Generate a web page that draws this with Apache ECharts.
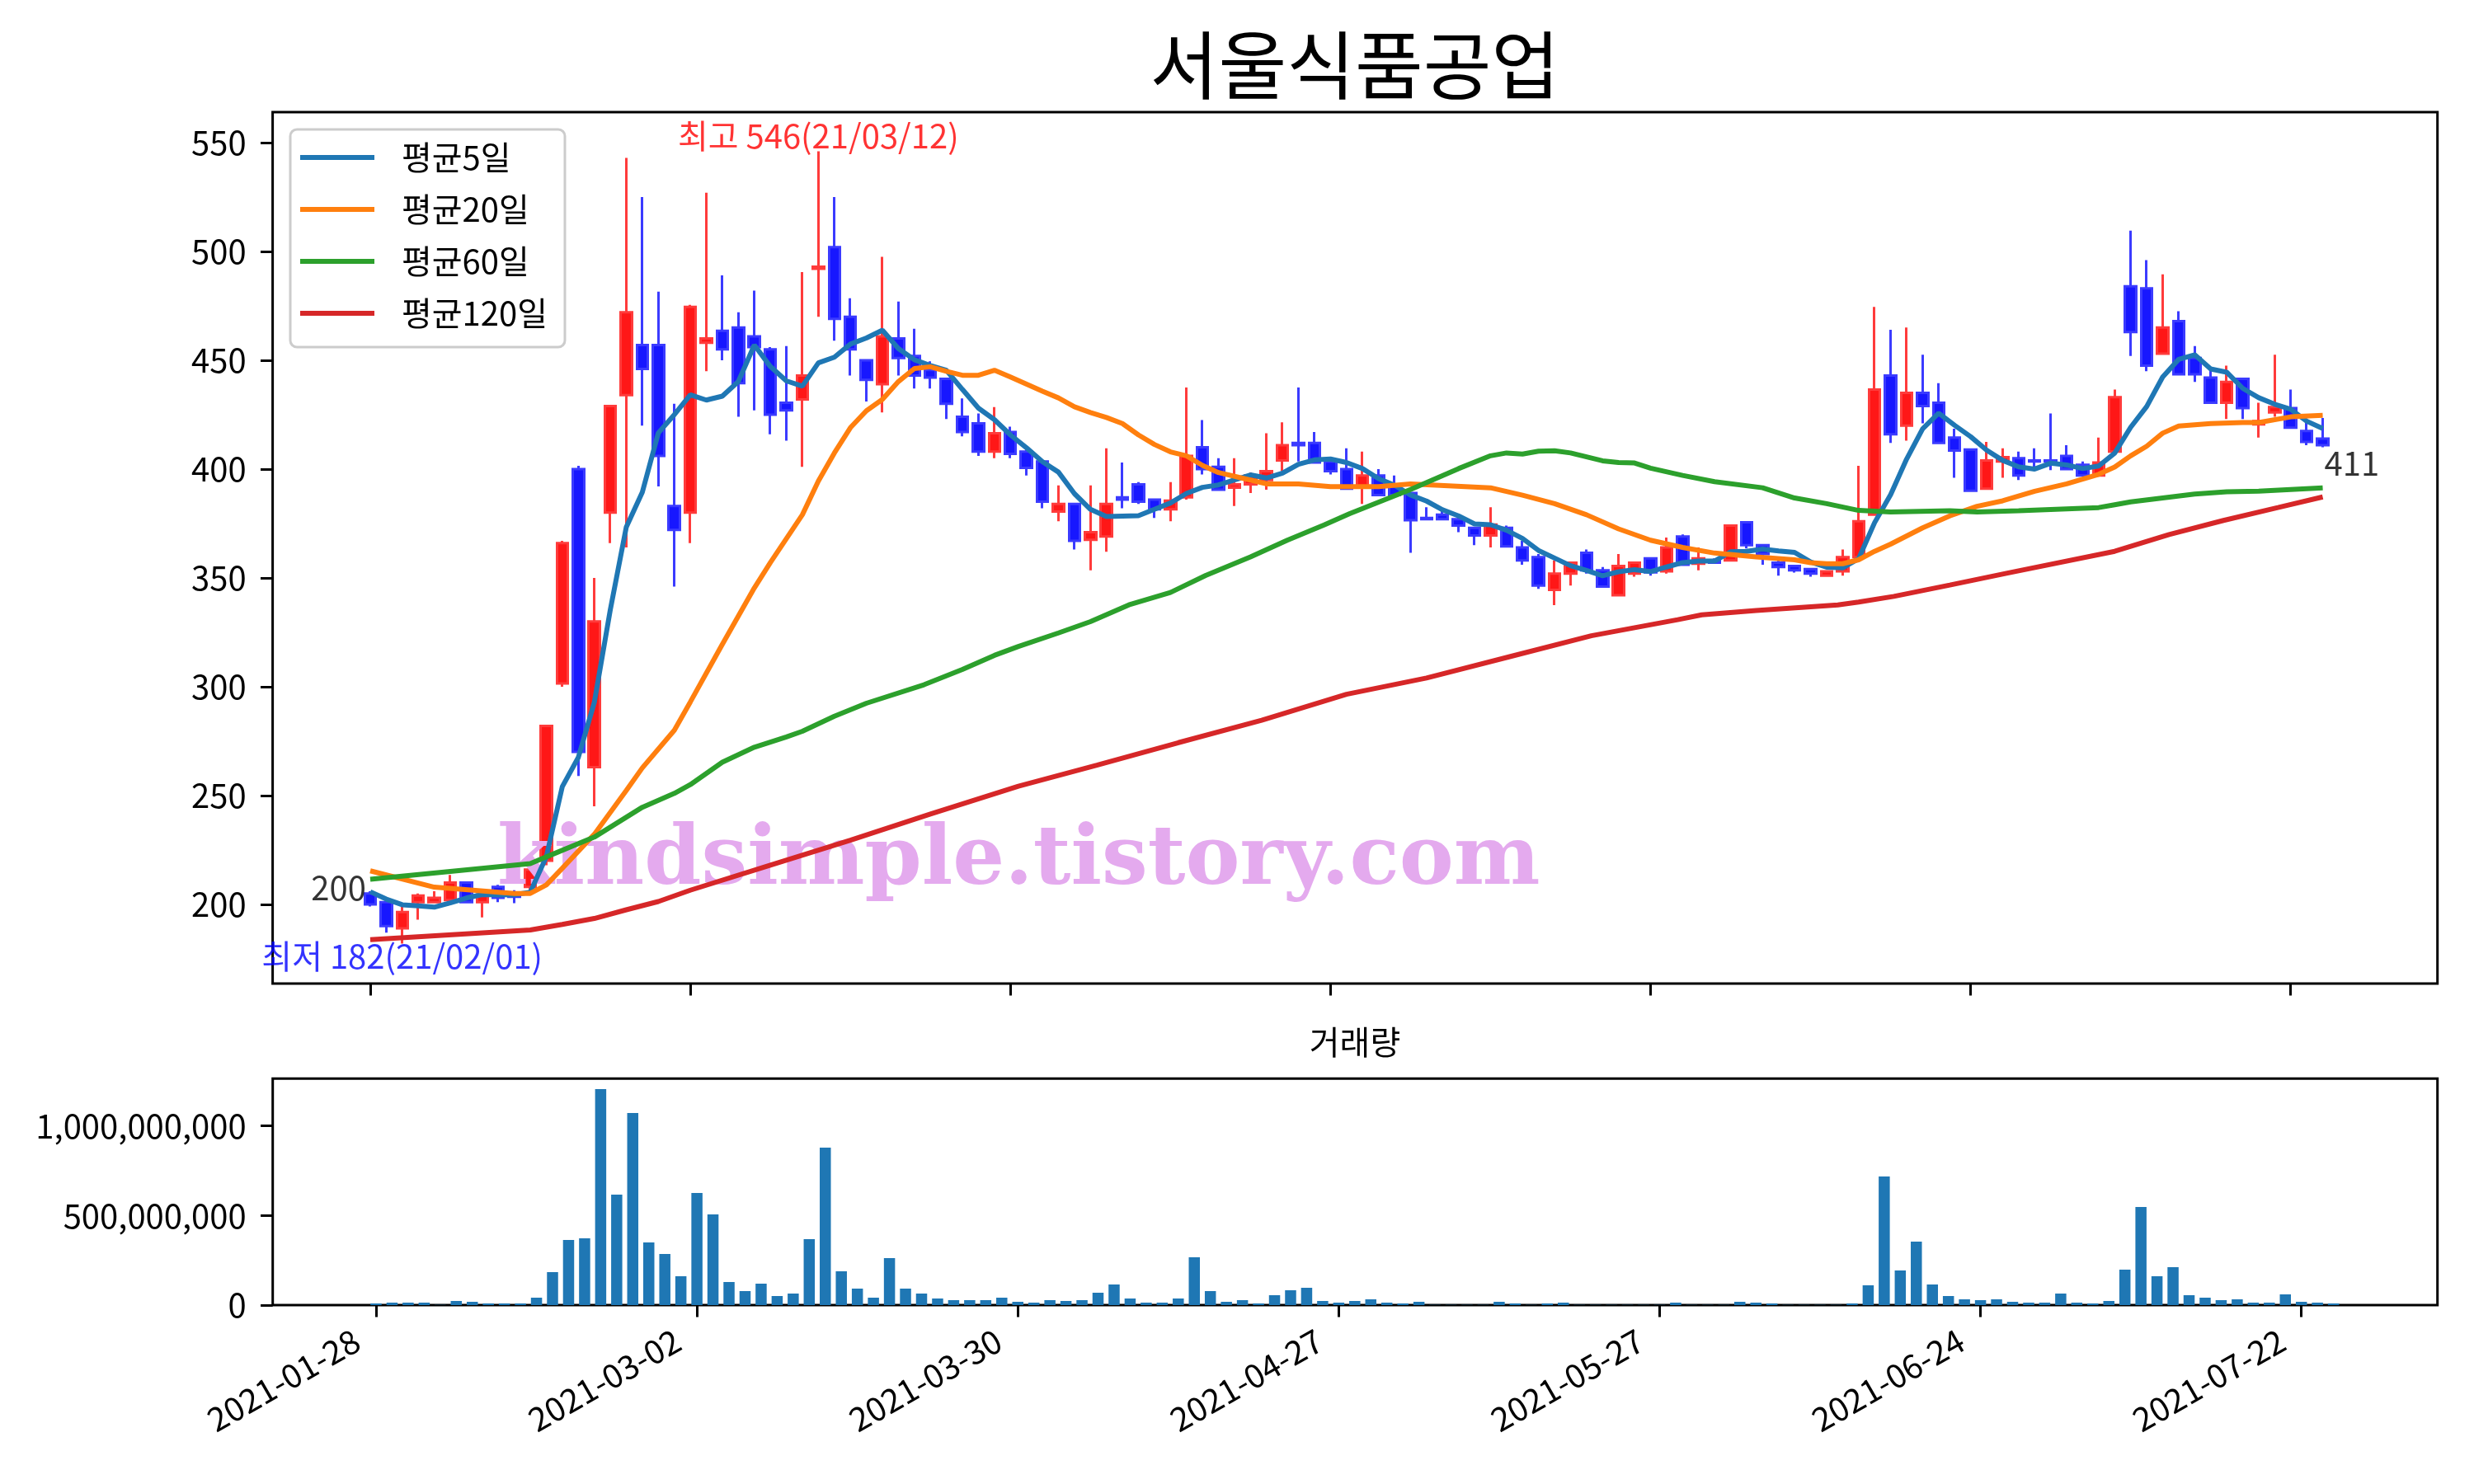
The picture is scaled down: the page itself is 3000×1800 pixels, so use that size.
<!DOCTYPE html>
<html>
<head>
<meta charset="utf-8">
<script src="https://cdn.jsdelivr.net/npm/echarts@6/dist/echarts.min.js"></script>
<style>
  html, body { margin: 0; padding: 0; background: #fff; }
  #main { width: 3000px; height: 1800px; }
</style>
</head>
<body>
<div id="main"></div>
<script>
// 서울식품공업 일봉, x = 거래일 순번 (0 = 2021-01-28)
var opens = [205, 201, 189, 201, 201, 202, 210, 201, 208, 205,
  208, 220, 301.5, 400, 263, 380, 434, 457, 457, 383,
  380, 458, 463.5, 465, 461, 455, 430.5, 432, 492, 502,
  470, 450, 439, 460, 452, 445.5, 441.5, 424, 421, 408,
  417, 408, 403.5, 380.5, 384, 367.5, 369, 387, 393, 386,
  381.5, 387, 410, 401, 391.5, 393, 395, 404, 412, 412,
  403.5, 400, 392, 397, 392.5, 389, 377.5, 379, 377, 373,
  369.5, 373, 364, 359.5, 344.5, 352, 361.5, 353.5, 342, 352,
  359, 353, 369, 356.5, 358, 358, 375.5, 365, 357, 355.5,
  354, 351, 353, 359.5, 379, 443, 420, 435, 430.5, 414.5,
  409, 391, 403.5, 405, 404, 404, 406, 402, 397, 408,
  484, 483, 453, 468, 451, 442, 430.5, 441.5, 420.5, 426,
  428, 417.5, 414];
var closes = [200, 190, 196.5, 204, 203, 210, 201, 204.5, 203, 203.5,
  216, 282, 366, 270, 330, 429, 472, 446, 406, 372,
  474.5, 460, 455, 439.5, 456, 425, 427, 443, 493, 469,
  455, 441, 461, 451, 443, 442, 430, 417, 408, 416.5,
  407, 400.5, 385, 384, 367, 371, 384, 386, 385, 381.5,
  385.5, 406, 400, 390.5, 393, 397, 399, 411, 411, 403,
  399, 391, 397, 388, 388, 376.5, 377, 377, 374, 369.5,
  374.5, 364.5, 358, 346.5, 352, 357, 353.5, 346, 355.5, 357,
  352.5, 364, 356, 359, 357, 374, 365, 361, 355, 353.5,
  352, 353, 359.5, 376, 436.5, 416, 435, 429, 412, 408.5,
  390, 404, 405.5, 397, 403.5, 403.5, 400, 397, 403, 433,
  463, 447.5, 465, 443.5, 443.5, 430.5, 440, 428, 422, 428.5,
  419, 412.5, 411];
var lows = [199, 187, 182, 193, 201, 201, 201, 194, 201, 200.5,
  206, 218, 300, 259, 245, 366, 364, 420, 392, 346,
  366, 445, 450, 424, 427, 416, 413, 401, 470, 459,
  443, 431, 426, 443, 437, 437, 423, 415, 406, 405,
  405, 397, 382, 376, 363, 353.5, 362, 382, 384, 377.5,
  376, 386, 397.5, 390, 383, 389, 390.5, 399, 403.5, 403,
  397.5, 391, 384, 387.5, 387.5, 361.5, 376.5, 376.5, 371, 365,
  364, 364, 356, 345, 337.5, 346.5, 352, 345.5, 342, 350.5,
  351, 352, 355.5, 353.5, 357, 357.5, 363.5, 356, 351, 352.4,
  350.5, 350.5, 351, 359, 378.5, 412, 413, 421, 411.5, 396,
  389.5, 390.5, 396, 395, 399.5, 399.5, 399.5, 396.5, 396.5, 408,
  452, 445, 452.5, 443, 440, 430, 423, 423, 414.5, 424,
  418.5, 411, 410];
var highs = [206, 202, 199, 205, 206, 213.5, 210.5, 206, 209, 206.5,
  217, 282.5, 367, 401.5, 350, 429.5, 543, 525, 481.5, 430,
  475.5, 527, 489, 472, 482, 456, 456.5, 490.5, 546, 525,
  478.5, 450.5, 497.5, 477, 464.5, 449.5, 442, 432.5, 425.5, 428.5,
  419.5, 410, 404, 392.5, 384.5, 392.5, 409.5, 403, 394, 386.5,
  394, 437.5, 422.5, 405, 405, 398.5, 416.5, 421.5, 437.5, 417,
  404, 409.5, 408, 400, 397, 389.5, 382.5, 382, 379, 373.5,
  382.5, 374, 367, 361, 358, 357.5, 363, 355, 361, 357.5,
  359, 368.5, 370, 364, 359, 374.5, 375.5, 365.5, 358, 356,
  354.5, 353.5, 363, 401.5, 474.5, 464, 465, 452.5, 439.5, 418.5,
  409.5, 412.5, 409.5, 408, 409.5, 425.5, 411, 403.5, 414.5, 436.5,
  509.5, 496, 489.5, 472.5, 456.5, 446, 447.5, 442, 430.5, 452.5,
  436.5, 421.5, 423.5];
var volumes = [9.2e6, 13.8e6, 13.8e6, 13.8e6, 1e6, 23e6, 18.4e6, 9.2e6, 9.2e6, 9.2e6,
  41.4e6, 184e6, 363e6, 372.6e6, 1205e6, 616e6, 1071.8e6, 349.6e6, 285.2e6, 161e6,
  625.6e6, 506e6, 128.8e6, 78.2e6, 119.6e6, 50.6e6, 64.4e6, 368e6, 878.6e6, 188.6e6,
  92e6, 41.4e6, 262.2e6, 92e6, 64.4e6, 36.8e6, 27.6e6, 27.6e6, 27.6e6, 41.4e6,
  18.4e6, 13.8e6, 27.6e6, 23e6, 27.6e6, 69e6, 115e6, 36.8e6, 13.8e6, 13.8e6,
  36.8e6, 266.8e6, 78.2e6, 18.4e6, 27.6e6, 9.2e6, 55.2e6, 82.8e6, 96.6e6, 23e6,
  13.8e6, 23e6, 32.2e6, 13.8e6, 9.2e6, 18.4e6, 1e6, 1e6, 1e6, 1e6,
  18.4e6, 9.2e6, 1e6, 9.2e6, 13.8e6, 1e6, 1e6, 1e6, 1e6, 1e6,
  1e6, 13.8e6, 1e6, 1e6, 1e6, 18.4e6, 13.8e6, 9.2e6, 1e6, 1e6,
  1e6, 1e6, 9.2e6, 110.4e6, 717.6e6, 193.2e6, 354.2e6, 115e6, 50.6e6, 32.2e6,
  27.6e6, 32.2e6, 18.4e6, 13.8e6, 13.8e6, 64.4e6, 13.8e6, 9.2e6, 23e6, 197.8e6,
  547.4e6, 161e6, 211.6e6, 55.2e6, 41.4e6, 27.6e6, 32.2e6, 13.8e6, 13.8e6, 59.8e6,
  18.4e6, 13.8e6, 9.2e6];

// 5일선 첫 4개는 이전 구간 종가가 필요해서 그림에서 읽은 값
var ma5Lead = [205.8, 202.4, 199.8, 199.3];
// 20/60/120일선: 그림에서 읽은 [순번, 값]
var ma20 = [[0, 215.4], [4, 207.9], [9, 205.0], [10, 205.0], [11, 208.9], [12, 216.6], [14, 232.2],
  [16, 252.3], [17, 262.7], [19, 280.0], [20, 293], [22, 319.5], [24, 345.4], [25, 357.0], [27, 379.0],
  [28, 394.5], [29, 407.4], [30, 419.0], [31, 426.8], [32, 432.0], [33, 440.2], [34, 446.2], [35, 447.0],
  [36, 444.9], [37, 443.1], [38, 443.1], [39, 445.4], [40, 442.3], [42, 435.8], [43, 432.7], [44, 428.6],
  [45, 426.0], [46, 423.7], [47, 420.9], [48, 415.7], [49, 411.3], [50, 407.9], [51, 406.1], [52, 401.7],
  [53, 398.4], [54.5, 395.8], [56, 393.2], [58, 393.2], [60, 391.9], [63, 391.9], [65, 393.2], [70, 391.4],
  [72, 388.0], [74, 384.1], [76, 379.0], [78, 372.5], [80, 367.3], [82, 364.0], [84, 361.4], [86.6, 359.6],
  [89, 358.3], [90, 357.0], [91, 356.5], [92, 356.5], [93, 358.3], [94, 362.2], [95, 365.5], [97, 373.0],
  [98.7, 378.5], [100.4, 382.9], [102, 385.4], [104, 389.8], [106, 393.2], [108, 397.6], [109, 400.9],
  [110, 406.1], [111, 410.5], [112, 416.5], [113, 419.8], [115, 420.9], [117, 421.4], [118, 421.4],
  [120, 424.0], [122, 424.7]];
var ma60 = [[0, 211.5], [10, 218.7], [11, 221.8], [14, 230.9], [17, 244.6], [19, 251.0], [20, 255],
  [22, 265.3], [24, 272.2], [26, 276.9], [27, 279.5], [29, 286.4], [31, 292.4], [34.6, 300.9], [37, 307.9],
  [39, 314.4], [40.5, 318.5], [43, 324.7], [45, 329.9], [47.4, 337.6], [50, 343.3], [52.2, 351.1],
  [55, 359.6], [57.3, 367.3], [59.6, 374.3], [61.2, 379.5], [65, 390.6], [68, 400.2], [70, 406.1],
  [71, 407.4], [72, 406.9], [73, 408.2], [74, 408.4], [75, 407.4], [76, 405.6], [77, 403.8], [78, 403.0],
  [79, 402.8], [80, 400.4], [82, 397.1], [84, 394.2], [87, 391.4], [89, 386.7], [91, 384.1], [93, 381.0],
  [95, 380.3], [98.7, 380.8], [100.4, 380.3], [103, 380.8], [108, 382.3], [109, 383.6], [110, 384.9],
  [112, 386.7], [114, 388.5], [116, 389.6], [118, 389.8], [120, 390.6], [122, 391.4]];
var ma120 = [[0, 183.8], [10, 188.2], [12, 190.8], [14, 193.5], [16, 197.5], [18, 201.3], [20, 206.5],
  [25, 218], [30, 229.5], [35, 241.5], [40.5, 254.3], [45.4, 263.9], [50.5, 274.3], [55.7, 284.6],
  [61, 296.5], [66, 304.0], [71.2, 313.8], [76.3, 323.4], [81.7, 330.8], [83.2, 333.0], [86.6, 335.0],
  [91.7, 337.6], [93, 338.9], [95.2, 341.5], [98.7, 346.7], [102.3, 352.2], [109, 362.2], [112.4, 369.9],
  [115.8, 376.4], [119.2, 382.3], [122, 387.2]];

var tickIdx = [0, 20, 40, 60, 80, 100, 120];
var tickLabels = ['2021-01-28', '2021-03-02', '2021-03-30', '2021-04-27', '2021-05-27', '2021-06-24', '2021-07-22'];
var priceTicks = [200, 250, 300, 350, 400, 450, 500, 550];
var volTicks = [0, 500000000, 1000000000];
var startDate = '2021-01-28';
var holidays = ['2021-02-11', '2021-02-12', '2021-03-01', '2021-05-05', '2021-05-19'];

// 거래일 날짜 (주말, 휴장일 제외)
var dates = [];
var d = new Date(startDate + 'T00:00:00Z');
while (dates.length < closes.length) {
  var s = d.toISOString().slice(0, 10);
  var wd = d.getUTCDay();
  if (wd !== 0 && wd !== 6 && holidays.indexOf(s) < 0) dates.push(s);
  d.setUTCDate(d.getUTCDate() + 1);
}
function shortDate(s) { return s.slice(2).replace(/-/g, '/'); }

var candles = opens.map(function (o, i) { return [i, o, closes[i], lows[i], highs[i]]; });
var ma5 = closes.map(function (c, i) {
  if (i < 4) return [i, ma5Lead[i]];
  var sum = 0;
  for (var j = i - 4; j <= i; j++) sum += closes[j];
  return [i, +(sum / 5).toFixed(2)];
});
var volData = volumes.map(function (v, i) { return [i, v]; });

var hi = Math.max.apply(null, highs), hiIdx = highs.indexOf(hi);
var lo = Math.min.apply(null, lows), loIdx = lows.indexOf(lo);
var last = closes.length - 1;

var FONT = 'Noto Sans CJK KR';
var tickStyle = { length: 14.6, lineStyle: { color: '#000', width: 3 } };
var labelStyle = { fontSize: 40, color: '#000', fontFamily: FONT };
var noLine = { show: false, onZero: false };

var myChart = echarts.init(document.getElementById('main'));
var option = {
  animation: false,
  backgroundColor: '#fff',
  title: [
    { text: '서울식품공업', left: 1643, top: 34, textAlign: 'center', padding: 0,
      textStyle: { fontSize: 90, lineHeight: 90, fontWeight: 'normal', color: '#000', fontFamily: FONT } },
    { text: '거래량', left: 1643, top: 1244, textAlign: 'center', padding: 0,
      textStyle: { fontSize: 40, lineHeight: 40, fontWeight: 'normal', color: '#000', fontFamily: FONT } }
  ],
  legend: {
    data: ['평균5일', '평균20일', '평균60일', '평균120일'],
    orient: 'vertical', left: 352, top: 157,
    padding: [9, 21, 16, 12], itemGap: 13,
    icon: 'rect', itemWidth: 90, itemHeight: 6,
    backgroundColor: '#fff', borderColor: '#cccccc', borderWidth: 3, borderRadius: 8,
    textStyle: { fontSize: 40, lineHeight: 50, color: '#000', fontFamily: FONT, padding: [0, 0, 0, 28] }
  },
  grid: [
    { left: 330.6, top: 136, width: 2625.1, height: 1057, show: true, borderColor: '#000', borderWidth: 3 },
    { left: 330.7, top: 1308.3, width: 2625, height: 274.7, show: true, borderColor: '#000', borderWidth: 3 }
  ],
  xAxis: [
    { type: 'value', gridIndex: 0, min: -6.10, max: 129.17,
      axisLine: noLine, splitLine: { show: false },
      axisTick: Object.assign({ customValues: tickIdx }, tickStyle),
      axisLabel: { show: false } },
    { type: 'value', gridIndex: 1, min: -6.44, max: 128.48,
      axisLine: noLine, splitLine: { show: false },
      axisTick: Object.assign({ customValues: tickIdx }, tickStyle),
      axisLabel: Object.assign({
        customValues: tickIdx, rotate: 30, margin: 26, padding: [0, 27, 0, 0],
        formatter: function (v) { return tickLabels[tickIdx.indexOf(v)]; }
      }, labelStyle) }
  ],
  yAxis: [
    { type: 'value', gridIndex: 0, min: 163.6, max: 564.0,
      axisLine: noLine, splitLine: { show: false },
      axisTick: Object.assign({ customValues: priceTicks }, tickStyle),
      axisLabel: Object.assign({ customValues: priceTicks, margin: 32 }, labelStyle) },
    { type: 'value', gridIndex: 1, min: 0, max: 1263600000,
      axisLine: noLine, splitLine: { show: false },
      axisTick: Object.assign({ customValues: volTicks }, tickStyle),
      axisLabel: Object.assign({ customValues: volTicks, margin: 32,
        formatter: function (v) { return v.toLocaleString('en-US'); } }, labelStyle) }
  ],
  graphic: [
    { type: 'text', x: 603, y: 1046, z: 3,
      style: { text: 'kindsimple.tistory.com', font: 'bold 99px "DejaVu Serif"', fill: '#e4aaee',
        align: 'left', verticalAlign: 'middle' } }
  ],
  series: [
    {
      name: '일봉', type: 'candlestick', xAxisIndex: 0, yAxisIndex: 0, z: 2,
      data: candles, barWidth: 14,
      itemStyle: { color: '#ff1717', borderColor: '#ff3b3b', color0: '#1717ff', borderColor0: '#3b3bff', borderWidth: 3 }
    },
    { name: '평균5일', type: 'line', data: ma5, showSymbol: false, symbol: 'none', z: 4,
      lineStyle: { width: 6, color: '#1f77b4' }, itemStyle: { color: '#1f77b4' } },
    { name: '평균20일', type: 'line', data: ma20, showSymbol: false, symbol: 'none', z: 4,
      lineStyle: { width: 6, color: '#ff7f0e' }, itemStyle: { color: '#ff7f0e' } },
    { name: '평균60일', type: 'line', data: ma60, showSymbol: false, symbol: 'none', z: 4,
      lineStyle: { width: 6, color: '#2ca02c' }, itemStyle: { color: '#2ca02c' } },
    { name: '평균120일', type: 'line', data: ma120, showSymbol: false, symbol: 'none', z: 4,
      lineStyle: { width: 6, color: '#d62728' }, itemStyle: { color: '#d62728' } },
    {
      name: '표시', type: 'scatter', xAxisIndex: 0, yAxisIndex: 0, z: 5,
      symbolSize: 0.1, itemStyle: { color: 'rgba(0,0,0,0)' }, silent: true,
      label: { show: true, fontSize: 40, fontFamily: FONT },
      data: [
        { value: [hiIdx, hi], label: { formatter: '최고 ' + hi + '(' + shortDate(dates[hiIdx]) + ')',
          color: '#ff0000', position: [0, -19], align: 'center', verticalAlign: 'middle' } },
        { value: [loIdx, lo], label: { formatter: '최저 ' + lo + '(' + shortDate(dates[loIdx]) + ')',
          color: '#0000ff', position: [0, 15], align: 'center', verticalAlign: 'middle' } },
        { value: [0, closes[0]], label: { formatter: String(closes[0]),
          color: '#000', position: [-5, -20], align: 'right', verticalAlign: 'middle' } },
        { value: [last, closes[last]], label: { formatter: String(closes[last]),
          color: '#000', position: [2, 22], align: 'left', verticalAlign: 'middle' } }
      ]
    },
    { name: '거래량', type: 'bar', xAxisIndex: 1, yAxisIndex: 1, data: volData, barWidth: 13.5,
      itemStyle: { color: '#1f77b4' } }
  ]
};
option && myChart.setOption(option);
</script>
</body>
</html>
